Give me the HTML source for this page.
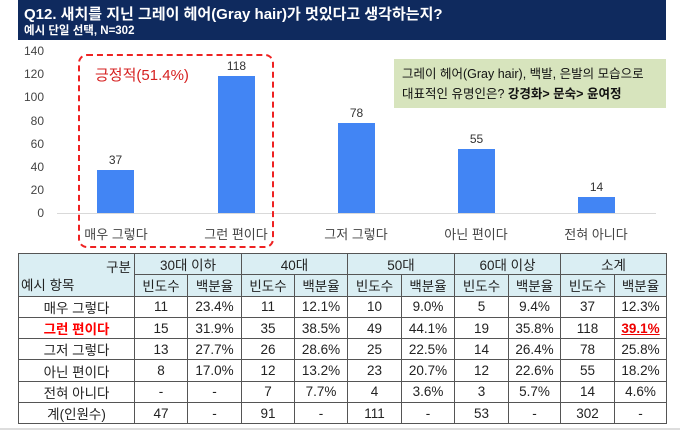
<!DOCTYPE html>
<html><head><meta charset="utf-8"><style>
*{margin:0;padding:0;box-sizing:border-box}
body{width:680px;height:430px;background:#fff;position:relative;overflow:hidden;font-family:"Liberation Sans","Noto Sans CJK KR",sans-serif;color:#222}
.a{position:absolute;white-space:nowrap}
#hdr{left:18px;top:0;width:648px;height:40px;background:#0f2a5e;color:#fff}
.yl{left:14px;width:30px;text-align:right;font-size:12px;color:#444}
.bar{background:#4285f4;width:37px}
.v{font-size:12px;width:37px;text-align:center;color:#333}
.c{font-size:13px;width:100px;text-align:center;color:#444;top:224px}
table{position:absolute;left:18px;top:253px;border-collapse:collapse;table-layout:fixed;font-size:13.5px}
td{border:1px solid #555;text-align:center;height:21.3px;padding:0;color:#222}
.h td{background:#daeef3}
</style></head><body>
<div id="hdr" class="a"><div class="a" style="left:6px;top:3px;font-size:15px;font-weight:bold">Q12. 새치를 지닌 그레이 헤어(Gray hair)가 멋있다고 생각하는지?</div><div class="a" style="left:6px;top:22px;font-size:11.5px;font-weight:bold">예시 단일 선택, N=302</div></div>
<div class="a yl" style="top:44px">140</div><div class="a yl" style="top:67px">120</div><div class="a yl" style="top:90px">100</div><div class="a yl" style="top:114px">80</div><div class="a yl" style="top:137px">60</div><div class="a yl" style="top:160px">40</div><div class="a yl" style="top:183px">20</div><div class="a yl" style="top:206px">0</div>
<div class="a" style="left:57px;top:213px;width:599px;height:1px;background:#d9d9d9"></div>
<div class="a bar" style="left:97px;top:170px;height:43px"></div><div class="a v" style="left:97px;top:153px">37</div>
<div class="a bar" style="left:218px;top:76px;height:137px"></div><div class="a v" style="left:218px;top:59px">118</div>
<div class="a bar" style="left:338px;top:123px;height:90px"></div><div class="a v" style="left:338px;top:106px">78</div>
<div class="a bar" style="left:458px;top:149px;height:64px"></div><div class="a v" style="left:458px;top:132px">55</div>
<div class="a bar" style="left:578px;top:197px;height:16px"></div><div class="a v" style="left:578px;top:180px">14</div>
<div class="a c" style="left:66px">매우 그렇다</div><div class="a c" style="left:186px">그런 편이다</div><div class="a c" style="left:306px">그저 그렇다</div><div class="a c" style="left:426px">아닌 편이다</div><div class="a c" style="left:546px">전혀 아니다</div>
<div class="a" style="left:78px;top:54px;width:196px;height:194px;border:2px dashed #ee2222;border-radius:9px"></div>
<div class="a" style="left:95px;top:64px;font-size:15px;color:#d62020">긍정적(51.4%)</div>
<div class="a" style="left:394px;top:59px;width:272px;height:49px;background:#d7e4bd;font-size:12.5px;color:#111"><div class="a" style="left:8px;top:4px">그레이 헤어(Gray hair), 백발, 은발의 모습으로</div><div class="a" style="left:8px;top:24px">대표적인 유명인은? <b>강경화&gt; 문숙&gt; 윤여정</b></div></div>
<table>
<colgroup><col style="width:116px"><col style="width:53px"><col style="width:54px"><col style="width:53px"><col style="width:53px"><col style="width:54px"><col style="width:53px"><col style="width:54px"><col style="width:52px"><col style="width:54px"><col style="width:52px"></colgroup>
<tr class="h"><td rowspan="2" style="position:relative;text-align:left"><span class="a" style="right:3px;top:2px">구분</span><span class="a" style="left:2px;top:20px">예시 항목</span></td><td colspan="2">30대 이하</td><td colspan="2">40대</td><td colspan="2">50대</td><td colspan="2">60대 이상</td><td colspan="2">소계</td></tr>
<tr class="h"><td>빈도수</td><td>백분율</td><td>빈도수</td><td>백분율</td><td>빈도수</td><td>백분율</td><td>빈도수</td><td>백분율</td><td>빈도수</td><td>백분율</td></tr>
<tr><td>매우 그렇다</td><td>11</td><td>23.4%</td><td>11</td><td>12.1%</td><td>10</td><td>9.0%</td><td>5</td><td>9.4%</td><td>37</td><td>12.3%</td></tr>
<tr><td style="color:#f00;font-weight:bold">그런 편이다</td><td>15</td><td>31.9%</td><td>35</td><td>38.5%</td><td>49</td><td>44.1%</td><td>19</td><td>35.8%</td><td>118</td><td style="color:#e00;font-weight:bold;text-decoration:underline">39.1%</td></tr>
<tr><td>그저 그렇다</td><td>13</td><td>27.7%</td><td>26</td><td>28.6%</td><td>25</td><td>22.5%</td><td>14</td><td>26.4%</td><td>78</td><td>25.8%</td></tr>
<tr><td>아닌 편이다</td><td>8</td><td>17.0%</td><td>12</td><td>13.2%</td><td>23</td><td>20.7%</td><td>12</td><td>22.6%</td><td>55</td><td>18.2%</td></tr>
<tr><td>전혀 아니다</td><td>-</td><td>-</td><td>7</td><td>7.7%</td><td>4</td><td>3.6%</td><td>3</td><td>5.7%</td><td>14</td><td>4.6%</td></tr>
<tr><td>계(인원수)</td><td>47</td><td>-</td><td>91</td><td>-</td><td>111</td><td>-</td><td>53</td><td>-</td><td>302</td><td>-</td></tr>
</table>
<div class="a" style="left:0;top:428px;width:680px;height:2px;background:#ddd"></div>
</body></html>
